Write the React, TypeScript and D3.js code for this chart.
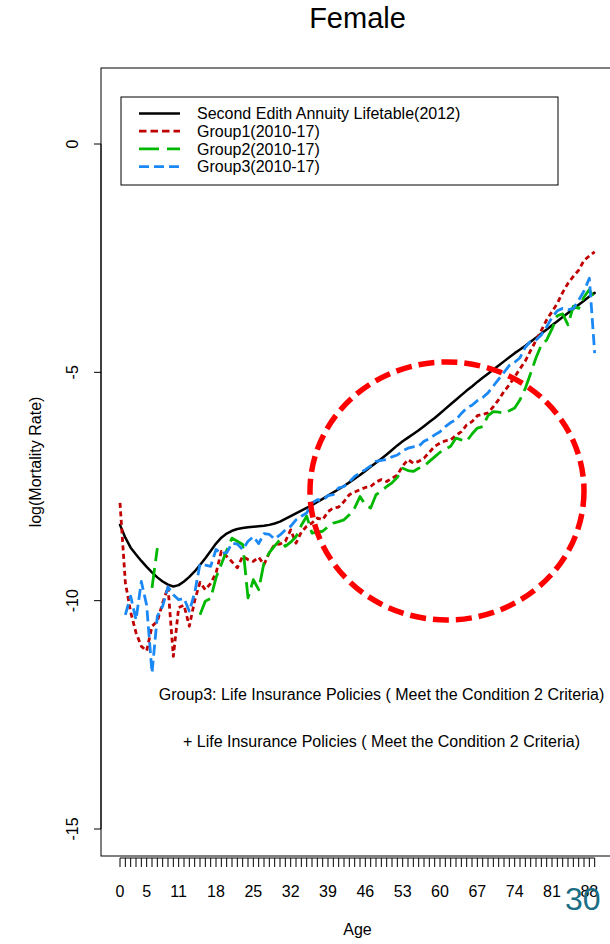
import React from "react";
import * as d3 from "d3";

const ages: number[] = Array.from({ length: 90 }, (_, i) => i);

const standard: number[] = [
  -8.34, -8.62, -8.84, -8.99, -9.13, -9.26, -9.38, -9.49, -9.58, -9.65,
  -9.69, -9.66, -9.58, -9.48, -9.36, -9.22, -9.07, -8.91, -8.75, -8.62,
  -8.53, -8.47, -8.43, -8.41, -8.39, -8.38, -8.37, -8.36, -8.34, -8.31,
  -8.27, -8.21, -8.15, -8.09, -8.03, -7.97, -7.91, -7.84, -7.77, -7.70,
  -7.63, -7.56, -7.49, -7.41, -7.33, -7.25, -7.16, -7.07, -6.98, -6.89,
  -6.80, -6.70, -6.60, -6.51, -6.43, -6.35, -6.27, -6.18, -6.09, -6.00,
  -5.90, -5.80, -5.70, -5.60, -5.50, -5.40, -5.31, -5.21, -5.12, -5.03,
  -4.94, -4.85, -4.76, -4.67, -4.58, -4.50, -4.42, -4.33, -4.24, -4.15,
  -4.06, -3.97, -3.88, -3.79, -3.70, -3.61, -3.52, -3.43, -3.34, -3.26,
];

const group1: (number | null)[] = [
  -7.86, -9.60, -10.25, -10.70, -11.00, -11.10, -10.56, -10.45, -10.05, -9.70,
  -11.22, -10.15, -10.10, -10.56, -10.00, -9.60, -9.76, -9.62, -9.40, -8.92,
  -9.03, -9.15, -9.28, -9.03, -9.10, -9.14, -9.05, -9.21, -8.95, -8.77,
  -8.76, -8.70, -8.45, -8.74, -8.50, -8.37, -8.30, -8.19, -8.23, -8.05,
  -7.97, -7.95, -7.83, -7.68, -7.62, -7.57, -7.52, -7.50, -7.40, -7.35,
  -7.39, -7.32, -7.25, -7.05, -6.91, -6.99, -6.95, -6.88, -6.75, -6.62,
  -6.55, -6.50, -6.48, -6.38, -6.30, -6.15, -6.08, -5.95, -5.92, -5.89,
  -5.75, -5.60, -5.42, -5.27, -5.10, -4.92, -4.75, -4.52, -4.30, -4.08,
  -3.85, -3.67, -3.49, -3.25, -3.05, -2.90, -2.76, -2.55, -2.45, -2.36,
];

const group2: (number | null)[] = [
  null, null, null, null, null, null, -9.72, -8.85, null, null,
  null, null, null, null, null, -10.31, -10.01, -9.95, -9.50, -9.20,
  -8.90, -8.63, -8.70, -8.77, -9.94, -9.54, -9.76, -9.17, -8.95, -8.80,
  -8.67, -8.81, -8.72, -8.60, -8.35, -8.15, -8.52, -8.50, -8.48, -8.38,
  -8.30, -8.27, -8.23, -8.12, -7.97, -7.72, -7.90, -7.97, -7.68, -7.60,
  -7.50, -7.42, -7.30, -7.10, -7.15, -7.17, -7.10, -7.06, -6.95, -6.85,
  -6.75, -6.68, -6.62, -6.44, -6.48, -6.51, -6.35, -6.22, -6.19, -5.95,
  -5.86, -5.87, -5.89, -5.84, -5.78, -5.60, -5.35, -5.02, -4.68, -4.40,
  -4.29, -4.05, -3.76, -3.72, -3.96, -3.55, -3.60, -3.35, -3.19, -3.40,
];

const group3: (number | null)[] = [
  null, -10.31, -9.90, -10.42, -9.58, -10.10, -11.58, -10.34, -10.12, -9.70,
  -9.87, -9.98, -9.95, -10.23, -9.83, -9.20, -9.22, -9.25, -8.88, -8.96,
  -8.95, -8.74, -8.76, -8.88, -8.70, -8.60, -8.75, -8.53, -8.55, -8.65,
  -8.56, -8.45, -8.37, -8.23, -8.15, -8.08, -7.86, -7.79, -7.80, -7.70,
  -7.68, -7.53, -7.50, -7.40, -7.28, -7.20, -7.13, -7.05, -6.95, -6.93,
  -6.91, -6.85, -6.81, -6.72, -6.66, -6.63, -6.62, -6.51, -6.45, -6.37,
  -6.30, -6.19, -6.10, -6.04, -5.90, -5.78, -5.72, -5.62, -5.55, -5.45,
  -5.30, -5.15, -5.00, -4.85, -4.78, -4.68, -4.45, -4.32, -4.29, -4.18,
  -4.00, -3.80, -3.65, -3.60, -3.63, -3.60, -3.42, -3.22, -2.94, -4.58,
];

const xTickLabels: number[] = [0, 5, 11, 18, 25, 32, 39, 46, 53, 60, 67, 74, 81, 88];
const yTicks: number[] = [0, -5, -10, -15];

const seriesNames: string[] = [
  "Second Edith Annuity Lifetable(2012)",
  "Group1(2010-17)",
  "Group2(2010-17)",
  "Group3(2010-17)",
];

const FONT = "'Liberation Sans', Arial, Helvetica, sans-serif";

export default function App() {
  const W = 610;
  const H = 944;
  const x = d3.scaleLinear().domain([0, 89]).range([120, 120 + 89 * 5.3335]);
  const y = d3.scaleLinear().domain([0, -15]).range([144, 829]);

  const lineGen = d3
    .line<number | null>()
    .defined((d) => d != null)
    .x((_, i) => x(ages[i]))
    .y((d) => y(d as number));

  const styles = [
    { data: standard as (number | null)[], color: "#000000", dash: "none", legendDash: "none", width: 2.5 },
    { data: group1, color: "#C00000", dash: "5 3.5", legendDash: "7.5 4", width: 2.8 },
    { data: group2, color: "#00B800", dash: "20 7", legendDash: "20 8", width: 2.8 },
    { data: group3, color: "#1A88F5", dash: "11 5", legendDash: "10 5", width: 2.8 },
  ];

  const boxLeft = 101;
  const boxRight = 614;
  const boxTop = 68;
  const boxBottom = 856;

  const legX = 121;
  const legY = 97;
  const legW = 437;
  const legH = 88;
  const rowY = (i: number) => 113.5 + i * 17.7;

  return (
    <svg
      width={W}
      height={H}
      style={{ position: "absolute", left: 0, top: 0, background: "#fff" }}
      fontFamily={FONT}
    >
      <rect x={0} y={0} width={W} height={H} fill="#fff" />
      {/* title */}
      <text x={(boxLeft + boxRight) / 2} y={28} textAnchor="middle" fontSize={29}>
        Female
      </text>

      {/* plot frame */}
      <rect
        x={boxLeft}
        y={boxTop}
        width={boxRight - boxLeft}
        height={boxBottom - boxTop}
        fill="none"
        stroke="#000"
        strokeWidth={1}
      />

      {/* y axis */}
      <line x1={boxLeft} x2={boxLeft} y1={y(0)} y2={y(-15)} stroke="#000" />
      {yTicks.map((t) => (
        <g key={t}>
          <line x1={94} x2={boxLeft} y1={y(t)} y2={y(t)} stroke="#000" />
          <text
            transform={`translate(78,${y(t)}) rotate(-90)`}
            textAnchor="middle"
            fontSize={16}
          >
            {t}
          </text>
        </g>
      ))}
      <text
        transform={`translate(41,${(boxTop + boxBottom) / 2}) rotate(-90)`}
        textAnchor="middle"
        fontSize={16}
      >
        log(Mortality Rate)
      </text>

      {/* x axis */}
      <line x1={x(0)} x2={x(89)} y1={858} y2={858} stroke="#000" />
      {ages.map((a) => (
        <line key={a} x1={x(a)} x2={x(a)} y1={858} y2={867} stroke="#000" strokeWidth={1} />
      ))}
      {xTickLabels.map((a) => (
        <text key={a} x={x(a)} y={897} textAnchor="middle" fontSize={16}>
          {a}
        </text>
      ))}
      <text x={(boxLeft + boxRight) / 2} y={935} textAnchor="middle" fontSize={16}>
        Age
      </text>

      {/* series */}
      {styles.map((s, i) => (
        <path
          key={i}
          d={lineGen(s.data) || ""}
          fill="none"
          stroke={s.color}
          strokeWidth={s.width}
          strokeDasharray={s.dash}
          strokeLinejoin="round"
          strokeLinecap={i === 0 ? "round" : "butt"}
        />
      ))}

      {/* legend */}
      <rect x={legX} y={legY} width={legW} height={legH} fill="#fff" stroke="#000" strokeWidth={1} />
      {styles.map((s, i) => (
        <g key={i}>
          <line
            x1={139}
            x2={180}
            y1={rowY(i)}
            y2={rowY(i)}
            stroke={s.color}
            strokeWidth={s.width}
            strokeDasharray={s.legendDash}
          />
          <text x={197} y={rowY(i) + 5.7} fontSize={16}>
            {seriesNames[i]}
          </text>
        </g>
      ))}

      {/* annotation text */}
      <text x={381.5} y={700} textAnchor="middle" fontSize={16}>
        Group3: Life Insurance Policies ( Meet the Condition 2 Criteria)
      </text>
      <text x={381.5} y={747} textAnchor="middle" fontSize={16}>
        + Life Insurance Policies ( Meet the Condition 2 Criteria)
      </text>

      {/* highlight ellipse */}
      <ellipse
        cx={447}
        cy={491}
        rx={137}
        ry={129}
        fill="none"
        stroke="#FF0000"
        strokeWidth={5.5}
        strokeDasharray="16 7"
      />

      {/* slide number */}
      <text x={565} y={910} fontSize={32} fill="#1A6E85">
        30
      </text>
    </svg>
  );
}
